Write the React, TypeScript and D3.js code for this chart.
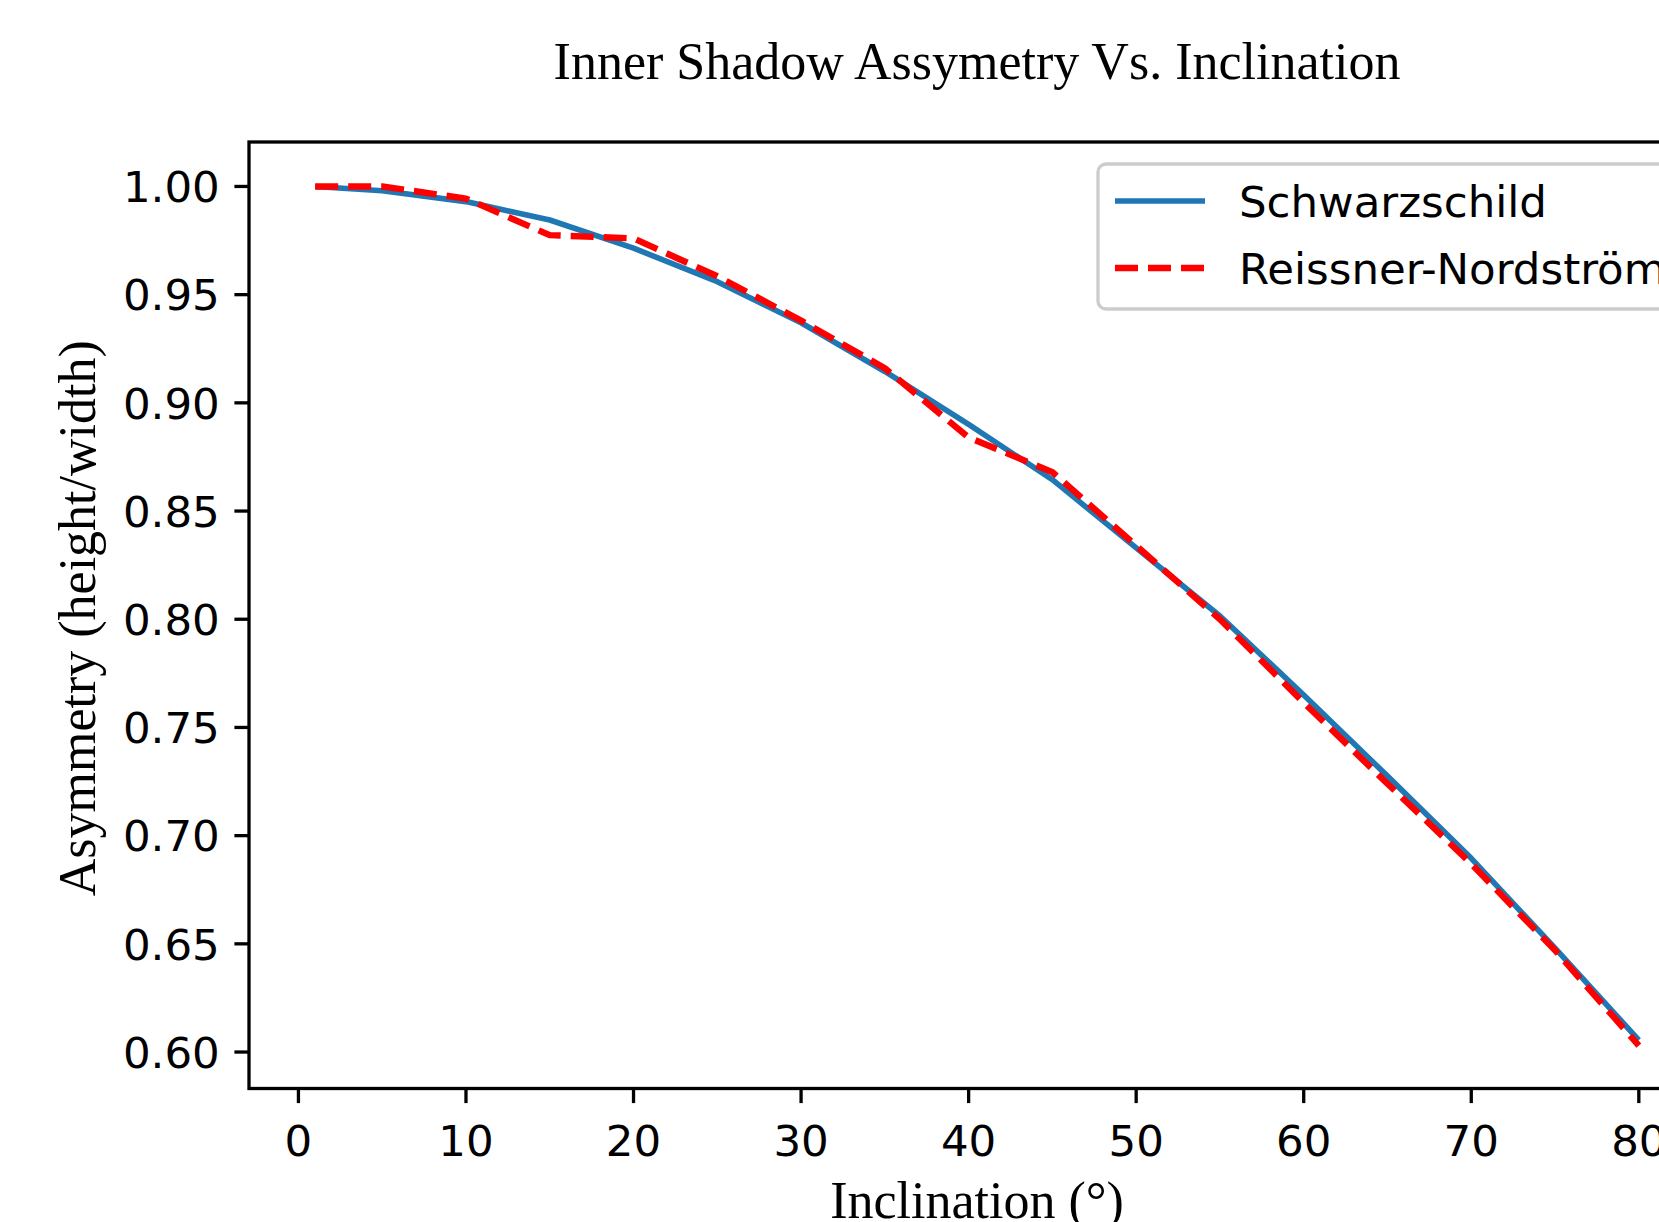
import React from "react";
import * as d3 from "d3";

const inclination = [1, 5, 10, 15, 20, 25, 30, 35, 40, 45, 50, 55, 60, 65, 70, 75, 80];
const schwarzschild = [1.0, 0.998, 0.993, 0.9845, 0.9715, 0.956, 0.937, 0.9145, 0.89, 0.8645, 0.833, 0.8015, 0.765, 0.7275, 0.6895, 0.648, 0.6055];
const reissnerNordstrom = [1.0, 1.0, 0.9944, 0.9775, 0.976, 0.9585, 0.938, 0.916, 0.884, 0.868, 0.834, 0.8, 0.7615, 0.724, 0.687, 0.647, 0.603];
const xTicks = [0, 10, 20, 30, 40, 50, 60, 70, 80];
const yTicks = [0.6, 0.65, 0.7, 0.75, 0.8, 0.85, 0.9, 0.95, 1.0];
const seriesNames = ["Schwarzschild", "Reissner-Nordström"];

const W = 1659;
const H = 1222;
const AX = { left: 249, right: 1705, top: 142, bottom: 1088.5 };

export default function App() {
  const xMin = d3.min(inclination)!;
  const xMax = d3.max(inclination)!;
  const xPad = (xMax - xMin) * 0.05;
  const allY = [...schwarzschild, ...reissnerNordstrom];
  const yMin = d3.min(allY)!;
  const yMax = d3.max(allY)!;
  const yPad = (yMax - yMin) * 0.05;

  const x = d3.scaleLinear().domain([xMin - xPad, xMax + xPad]).range([AX.left, AX.right]);
  const y = d3.scaleLinear().domain([yMin - yPad, yMax + yPad]).range([AX.bottom, AX.top + 1.5]);

  const line = d3
    .line<number>()
    .x((_, i) => x(inclination[i]))
    .y((d) => y(d));

  const tickFont = "'DejaVu Sans', sans-serif";
  const serif = "'Liberation Serif', 'Times New Roman', serif";
  const fs = 43.5;
  const tickLen = 14.6;
  const lw = 3.3;
  const cx = (AX.left + AX.right) / 2;
  const cy = (AX.top + AX.bottom) / 2;

  const legX = 1098;
  const legY = 164;
  const row1 = 201;
  const row2 = 268;

  return (
    <svg
      width={W}
      height={H}
      viewBox={`0 0 ${W} ${H}`}
      style={{ position: "absolute", left: 0, top: 0, background: "#fff" }}
    >
      <rect x={0} y={0} width={W} height={H} fill="#fff" />
      {/* title */}
      <text x={cx} y={79} textAnchor="middle" fontFamily={serif} fontSize={52} fill="#000">
        Inner Shadow Assymetry Vs. Inclination
      </text>

      {/* lines */}
      <path d={line(schwarzschild) || ""} fill="none" stroke="#1f77b4" strokeWidth={5.6} strokeLinejoin="round" strokeLinecap="butt" />
      <path
        d={line(reissnerNordstrom) || ""}
        fill="none"
        stroke="#ff0000"
        strokeWidth={6.4}
        strokeDasharray="23 10"
        strokeLinejoin="round"
        strokeLinecap="butt"
      />

      {/* spines */}
      <rect
        x={AX.left}
        y={AX.top}
        width={AX.right - AX.left}
        height={AX.bottom - AX.top}
        fill="none"
        stroke="#000"
        strokeWidth={lw}
      />

      {/* x ticks */}
      {xTicks.map((t) => (
        <g key={"x" + t}>
          <line x1={x(t)} x2={x(t)} y1={AX.bottom} y2={AX.bottom + tickLen} stroke="#000" strokeWidth={lw} />
          <text x={x(t)} y={1156} textAnchor="middle" fontFamily={tickFont} fontSize={fs} fill="#000">
            {t}
          </text>
        </g>
      ))}

      {/* y ticks */}
      {yTicks.map((t) => (
        <g key={"y" + t}>
          <line x1={AX.left - tickLen} x2={AX.left} y1={y(t)} y2={y(t)} stroke="#000" strokeWidth={lw} />
          <text x={AX.left - tickLen - 14.6} y={y(t) + 15.8} textAnchor="end" fontFamily={tickFont} fontSize={fs} fill="#000">
            {t.toFixed(2)}
          </text>
        </g>
      ))}

      {/* axis labels */}
      <text x={cx} y={1218} textAnchor="middle" fontFamily={serif} fontSize={52} fill="#000">
        Inclination (°)
      </text>
      <text
        transform={`translate(95, ${cy + 3}) rotate(-90)`}
        textAnchor="middle"
        fontFamily={serif}
        fontSize={52}
        fill="#000"
      >
        Asymmetry (height/width)
      </text>

      {/* legend */}
      <rect x={legX} y={legY} width={700} height={145} rx={8} ry={8} fill="#fff" fillOpacity={0.8} stroke="#cccccc" strokeWidth={lw} />
      <line x1={1115} x2={1205} y1={row1} y2={row1} stroke="#1f77b4" strokeWidth={5.6} />
      <line x1={1115} x2={1205} y1={row2} y2={row2} stroke="#ff0000" strokeWidth={6.4} strokeDasharray="23 10" />
      <text x={1239} y={row1 + 16} fontFamily={tickFont} fontSize={fs} fill="#000">
        {seriesNames[0]}
      </text>
      <text x={1239} y={row2 + 16} fontFamily={tickFont} fontSize={fs} fill="#000">
        {seriesNames[1]}
      </text>
    </svg>
  );
}
